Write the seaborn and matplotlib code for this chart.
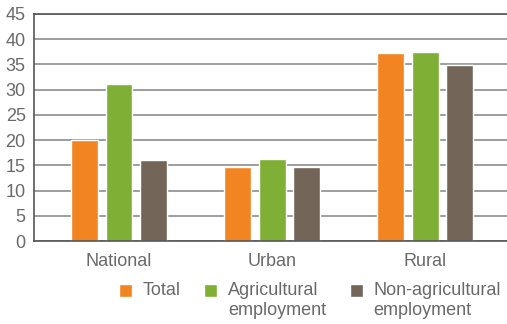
import matplotlib
matplotlib.use("Agg")
import matplotlib.pyplot as plt
import seaborn as sns
import pandas as pd

categories = ["National", "Urban", "Rural"]
series = ["Total", "Agricultural\nemployment", "Non-agricultural\nemployment"]
total = [20.0, 14.7, 37.3]
agricultural = [31.1, 16.25, 37.5]
non_agricultural = [16.05, 14.7, 34.95]
colors = ["#F28422", "#7FAF35", "#736658"]

rows = []
for s, vals in zip(series, [total, agricultural, non_agricultural]):
    for c, v in zip(categories, vals):
        rows.append({"Area": c, "Series": s, "Value": v})
df = pd.DataFrame(rows)

sns.set_style("white")
plt.rcParams['font.family'] = ['Liberation Sans', 'DejaVu Sans']

W, H = 507, 324
fig = plt.figure(figsize=(W / 100, H / 100), dpi=100)
ax = fig.add_axes([34 / W, (H - 241) / H, (507 - 34) / W, (241 - 14) / H])

sns.barplot(data=df, x="Area", y="Value", hue="Series", palette=colors,
            width=0.675, gap=0.22, ax=ax, saturation=1, legend=True)

ax.set_ylim(0, 45)
ax.set_yticks(range(0, 46, 5))
ax.set_xlim(-0.555, 2.533)
ax.yaxis.grid(True, color="#8c8c8c", linewidth=1.2)
ax.set_axisbelow(True)
ax.spines["right"].set_visible(False)
for side in ["left", "top", "bottom"]:
    ax.spines[side].set_color("#555555")
    ax.spines[side].set_linewidth(1.2)
ax.tick_params(axis="both", length=0, labelsize=13, colors="#6a6a6a")
ax.tick_params(axis="y", pad=6)
ax.tick_params(axis="x", pad=9)
ax.set_xlabel("")
ax.set_ylabel("")

handles, labels = ax.get_legend_handles_labels()
ax.legend_.remove()
leg = fig.legend(handles, labels, loc="upper left", bbox_to_anchor=(119 / W, 1 - 282 / H),
                 ncol=3, frameon=False, fontsize=13, handlelength=0.72, handleheight=0.72,
                 handletextpad=0.6, columnspacing=1.3, borderaxespad=0, borderpad=0,
                 labelspacing=0.2)
for t in leg.get_texts():
    t.set_color("#6a6a6a")
    if "\n" not in t.get_text():
        t.set_text(t.get_text() + "\n")
for p in leg.legend_handles:
    p.set_y(p.get_y() + 7.5)

fig.savefig("out.png", dpi=100)
